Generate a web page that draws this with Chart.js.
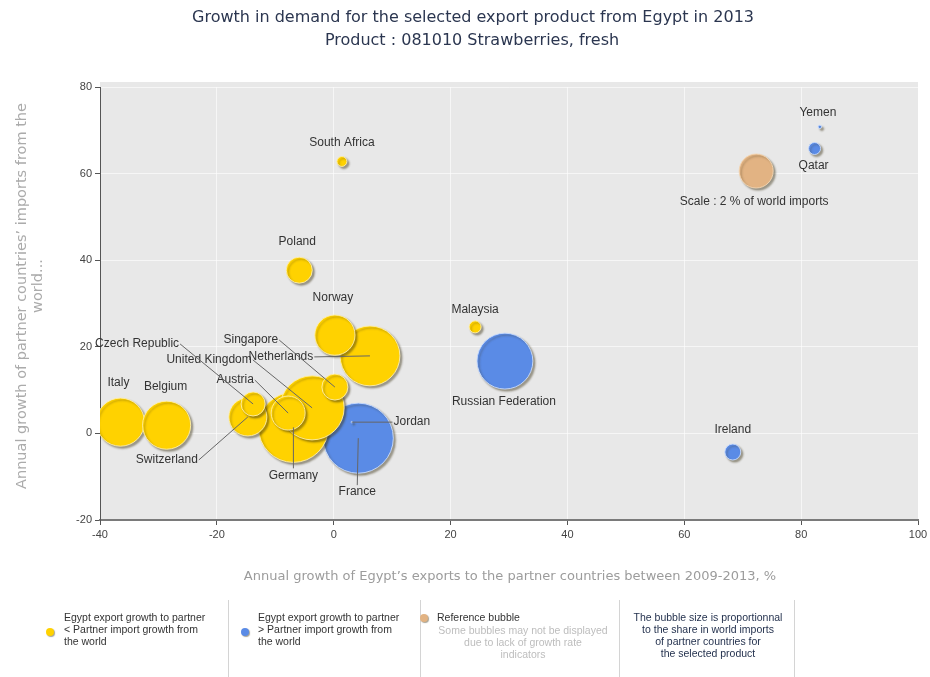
<!DOCTYPE html>
<html>
<head>
<meta charset="utf-8">
<script src="https://cdn.jsdelivr.net/npm/chart.js@4.4.1/dist/chart.umd.min.js"></script>
<style>
    html, body { margin: 0; padding: 0; background: #fff; }
    #chart { display: block; }
</style>
</head>
<body>
<canvas id="chart" width="930" height="677"></canvas>
<script>
// partners where Egypt's export growth < partner import growth (yellow)
const yellowNames = ['South Africa', 'Poland', 'Norway', 'Netherlands', 'Singapore', 'Italy', 'Belgium',
    'Czech Republic', 'Switzerland', 'Austria', 'United Kingdom', 'Germany', 'Malaysia'];
const yellowExportGrowth = [1.4, -5.9, 0.2, 6.2, 0.2, -36.5, -28.6, -13.8, -14.7, -7.8, -3.7, -6.9, 24.2];
const yellowImportGrowth = [62.8, 37.7, 22.7, 17.9, 10.7, 2.6, 1.9, 6.8, 3.8, 4.7, 5.9, 1.4, 24.6];
const yellowShare = [0.17, 1.17, 2.8, 6.2, 1.17, 4.0, 4.0, 1.0, 2.5, 2.0, 7.1, 8.5, 0.25];

// partners where Egypt's export growth > partner import growth (blue)
const blueNames = ['Jordan', 'France', 'Russian Federation', 'Ireland', 'Qatar', 'Yemen'];
const blueExportGrowth = [3.1, 4.2, 29.3, 68.3, 82.3, 83.2];
const blueImportGrowth = [2.6, -1.1, 16.7, -4.3, 65.8, 70.8];
const blueShare = [0.004, 8.5, 5.4, 0.44, 0.25, 0.02];

// reference bubble
const refNames = ['Scale : 2 % of world imports'];
const refExportGrowth = [72.3];
const refImportGrowth = [60.6];
const refShare = [2];

const xTicks = [-40, -20, 0, 20, 40, 60, 80, 100];
const yTicks = [-20, 0, 20, 40, 60, 80];

const titleLines = ['Growth in demand for the selected export product from Egypt in 2013',
    'Product : 081010 Strawberries, fresh'];
const xTitle = 'Annual growth of Egypt\u2019s exports to the partner countries between 2009-2013, %';
const yTitleLines = ['Annual growth of partner countries\u2019 imports from the', 'world...'];

const YELLOW = '#ffd200';
const BLUE = '#5a8be6';
const TAN = '#e2b383';
const REF_R = 17;   // pixel radius of the 2% reference bubble

// label offsets (px from bubble centre) and leader line side
const labelPlacement = {
    'South Africa': [0, -19],
    'Poland': [-2, -28],
    'Norway': [-2, -37],
    'Netherlands': [-89, 1, 'right'],
    'Singapore': [-84, -47, 'right'],
    'Italy': [-2, -39],
    'Belgium': [-1, -38],
    'Czech Republic': [-116, -60, 'right'],
    'Switzerland': [-81, 43, 'right'],
    'Austria': [-53, -33, 'right'],
    'United Kingdom': [-103, -48, 'right'],
    'Germany': [0, 48, 'top'],
    'Malaysia': [0, -17],
    'Jordan': [60, 0, 'left'],
    'France': [-1, 54, 'top'],
    'Russian Federation': [-1, 41],
    'Ireland': [0, -22],
    'Qatar': [-1, 17],
    'Yemen': [-2, -14],
    'Scale : 2 % of world imports': [-2, 31],
};

function buildPoints(names, xs, ys, shares) {
    let pts = names.map((n, i) => ({
        x: xs[i], y: ys[i], r: REF_R * Math.sqrt(shares[i] / 2), name: n
    }));
    // big ones first so the small ones stay visible
    pts.sort((a, b) => b.r - a.r);
    return pts;
}

const plotBackground = {
    id: 'plotBackground',
    beforeDraw(chart) {
        const {ctx, chartArea: a} = chart;
        ctx.save();
        ctx.fillStyle = '#e8e8e8';
        ctx.fillRect(a.left, a.top - 5, a.right - a.left, a.bottom - a.top + 5);
        ctx.restore();
    }
};

const bubbleShadow = {
    id: 'bubbleShadow',
    beforeDatasetDraw(chart) {
        const ctx = chart.ctx;
        ctx.save();
        ctx.shadowColor = 'rgba(60, 50, 20, 0.45)';
        ctx.shadowBlur = 2;
        ctx.shadowOffsetX = 2;
        ctx.shadowOffsetY = 2;
    },
    afterDatasetDraw(chart) {
        chart.ctx.restore();
    }
};

function dot(ctx, x, y, r, colour) {
    ctx.save();
    ctx.shadowColor = 'rgba(60, 50, 20, 0.45)';
    ctx.shadowBlur = 1;
    ctx.shadowOffsetX = 1;
    ctx.shadowOffsetY = 1;
    ctx.beginPath();
    ctx.arc(x, y, r, 0, Math.PI * 2);
    ctx.fillStyle = colour;
    ctx.fill();
    ctx.restore();
}

const annotations = {
    id: 'annotations',
    afterDraw(chart) {
        const ctx = chart.ctx;
        ctx.save();

        // country labels + leader lines
        ctx.font = '12px "Liberation Sans", Arial, sans-serif';
        ctx.textAlign = 'center';
        ctx.textBaseline = 'middle';
        chart.data.datasets.forEach((ds, di) => {
            const meta = chart.getDatasetMeta(di);
            meta.data.forEach((el, i) => {
                const name = ds.data[i].name;
                const p = labelPlacement[name];
                if (!p) return;
                const lx = el.x + p[0], ly = el.y + p[1];
                const w = ctx.measureText(name).width;
                if (p[2]) {
                    let sx = lx, sy = ly;
                    if (p[2] === 'right') sx = lx + w / 2 + 1;
                    if (p[2] === 'left') sx = lx - w / 2 - 1;
                    if (p[2] === 'top') sy = ly - 7;
                    ctx.strokeStyle = '#666';
                    ctx.lineWidth = 1;
                    ctx.beginPath();
                    ctx.moveTo(sx, sy);
                    ctx.lineTo(el.x, el.y);
                    ctx.stroke();
                }
                ctx.fillStyle = '#333';
                ctx.fillText(name, lx, ly);
            });
        });

        // title
        ctx.fillStyle = '#2b3650';
        ctx.font = '16px "DejaVu Sans", sans-serif';
        ctx.fillText(titleLines[0], 473, 18);
        ctx.fillText(titleLines[1], 472, 41);

        // axis titles
        ctx.fillStyle = '#9c9c9c';
        ctx.font = '13px "DejaVu Sans", sans-serif';
        ctx.fillText(xTitle, 510, 577);
        ctx.save();
        ctx.translate(22, 296);
        ctx.rotate(-Math.PI / 2);
        ctx.fillStyle = '#ababab';
        ctx.font = '14.5px "DejaVu Sans", sans-serif';
        ctx.fillText(yTitleLines[0], 0, 0);
        ctx.fillText(yTitleLines[1], 10, 16);
        ctx.restore();

        // legend
        ctx.strokeStyle = '#d4d4d4';
        ctx.lineWidth = 1;
        [228.5, 420.5, 619.5, 794.5].forEach(x => {
            ctx.beginPath();
            ctx.moveTo(x, 600);
            ctx.lineTo(x, 677);
            ctx.stroke();
        });
        dot(ctx, 50, 632, 4, YELLOW);
        dot(ctx, 245, 632, 4, BLUE);
        dot(ctx, 424, 618, 4, TAN);

        ctx.font = '10.5px "Liberation Sans", Arial, sans-serif';
        ctx.textAlign = 'left';
        ctx.fillStyle = '#333';
        const leg1 = ['Egypt export growth to partner', '< Partner import growth from', 'the world'];
        const leg2 = ['Egypt export growth to partner', '> Partner import growth from', 'the world'];
        leg1.forEach((t, i) => ctx.fillText(t, 64, 618 + i * 12));
        leg2.forEach((t, i) => ctx.fillText(t, 258, 618 + i * 12));
        ctx.fillText('Reference bubble', 437, 618);
        ctx.textAlign = 'center';
        ctx.fillStyle = '#bdbdbd';
        ['Some bubbles may not be displayed', 'due to lack of growth rate', 'indicators']
            .forEach((t, i) => ctx.fillText(t, 523, 631 + i * 12));
        ctx.fillStyle = '#1f2d4a';
        ['The bubble size is proportionnal', 'to the share in world imports', 'of partner countries for', 'the selected product']
            .forEach((t, i) => ctx.fillText(t, 708, 618 + i * 12));

        ctx.restore();
    }
};

const ctx = document.getElementById('chart').getContext('2d');

new Chart(ctx, {
    type: 'bubble',
    data: {
        datasets: [
            {
                label: 'Egypt export growth to partner < Partner import growth from the world',
                data: buildPoints(yellowNames, yellowExportGrowth, yellowImportGrowth, yellowShare),
                backgroundColor: YELLOW,
                borderColor: 'rgba(255, 240, 170, 0.9)',
                borderWidth: 1,
            },
            {
                label: 'Egypt export growth to partner > Partner import growth from the world',
                data: buildPoints(blueNames, blueExportGrowth, blueImportGrowth, blueShare),
                backgroundColor: BLUE,
                borderColor: 'rgba(200, 220, 255, 0.9)',
                borderWidth: 1,
            },
            {
                label: 'Reference bubble',
                data: buildPoints(refNames, refExportGrowth, refImportGrowth, refShare),
                backgroundColor: TAN,
                borderColor: 'rgba(245, 215, 180, 0.9)',
                borderWidth: 1,
            },
        ]
    },
    options: {
        responsive: false,
        animation: false,
        devicePixelRatio: 1,
        layout: { autoPadding: false, padding: { top: 87, right: 12, left: 0, bottom: 0 } },
        plugins: {
            legend: { display: false },
            tooltip: { enabled: false },
        },
        scales: {
            x: {
                type: 'linear',
                min: xTicks[0],
                max: xTicks[xTicks.length - 1],
                afterFit: s => { s.height = 157; s.paddingLeft = 0; s.paddingRight = 0; },
                afterBuildTicks: s => { s.ticks = xTicks.map(v => ({ value: v })); },
                grid: { color: 'rgba(255,255,255,0.6)', tickColor: '#555', tickLength: 5 },
                border: { color: '#7a7a7a', width: 2 },
                ticks: {
                    color: '#444',
                    font: { family: '"Liberation Sans", Arial', size: 11 },
                    maxRotation: 0,
                    autoSkip: false,
                    padding: 3,
                },
            },
            y: {
                type: 'linear',
                min: yTicks[0],
                max: yTicks[yTicks.length - 1],
                afterFit: s => { s.width = 100; s.paddingTop = 0; s.paddingBottom = 0; },
                afterBuildTicks: s => { s.ticks = yTicks.map(v => ({ value: v })); },
                grid: { color: 'rgba(255,255,255,0.6)', tickColor: '#555', tickLength: 5 },
                border: { color: '#555', width: 1 },
                ticks: {
                    color: '#444',
                    font: { family: '"Liberation Sans", Arial', size: 11 },
                    padding: 3,
                },
            },
        },
    },
    plugins: [plotBackground, bubbleShadow, annotations],
});
</script>
</body>
</html>
